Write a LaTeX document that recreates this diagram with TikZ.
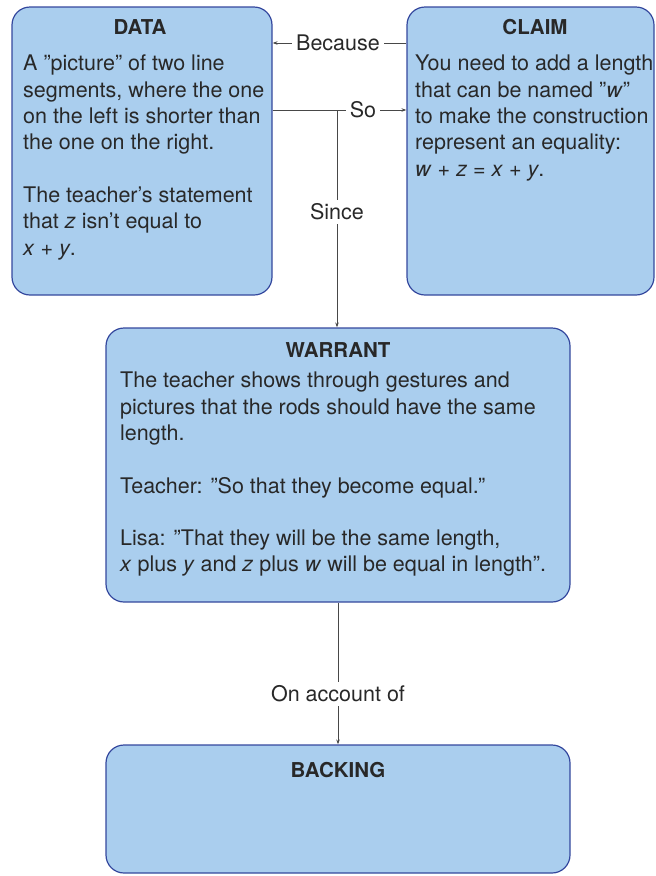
\documentclass[tikz,border=0pt]{standalone}
\usepackage{fontspec}
\setmainfont{TeX Gyre Heros}
\usetikzlibrary{arrows.meta}
\definecolor{boxfill}{RGB}{170,206,238}
\definecolor{boxline}{RGB}{52,72,158}
\definecolor{ink}{RGB}{40,40,40}
\tikzset{
  box/.style={draw=boxline, line width=1.2pt, fill=boxfill, rounded corners=18pt, inner sep=0pt},
  head/.style={font=\fontsize{20.5}{26}\selectfont\bfseries, text=ink},
  body/.style={font=\fontsize{21.5}{26.3}\selectfont, text=ink, align=left, anchor=north west, inner sep=0pt},
  lbl/.style={font=\fontsize{21.5}{24}\selectfont, text=ink, inner sep=4pt},
  conn/.style={draw=ink!85, line width=0.8pt},
  >={Stealth[length=5pt,width=3.5pt]}
}

\begin{document}
\begin{tikzpicture}[x=1pt, y=-1pt]
			%%%%% START %%%%%
			\useasboundingbox (0,0) rectangle (656,876);
			
			\node[box, minimum width=260pt, minimum height=288pt] (data) at (142,151) {};
			\node[head] (datahead) at (140,27) {DATA};
			\node[body] (databody) at (23,55) {A ”picture” of two line\\ segments, where the one\\ on the left is shorter than\\ the one on the right.\\[26.3pt] The teacher’s statement\\ that \textit{z} isn’t equal to\\ \textit{x} + \textit{y}.};
			
			\node[box, minimum width=247pt, minimum height=288pt] (claim) at (530.5,151) {};
			\node[head] (claimhead) at (535,27) {CLAIM};
			\node[body] (claimbody) at (415,55) {You need to add a length\\ that can be named ”\textit{w}”\\ to make the construction\\ represent an equality:\\ \textit{w} + \textit{z} = \textit{x} + \textit{y}.};
			
			\node[box, minimum width=464pt, minimum height=274pt] (warrant) at (338,465) {};
			\node[head] (warranthead) at (338,350) {WARRANT};
			\node[body] (warrantbody) at (120,372) {The teacher shows through gestures and\\ pictures that the rods should have the same\\ length.\\[26.3pt] Teacher: ”So that they become equal.”\\[26.3pt] Lisa: ”That they will be the same length,\\ \textit{x} plus \textit{y} and \textit{z} plus \textit{w} will be equal in length”.};
			
			\node[box, minimum width=464pt, minimum height=128pt] (backing) at (338,809) {};
			\node[head] (backinghead) at (338,770) {BACKING};
			
			\node[lbl] (because) at (338,43) {Because};
			\node[lbl] (so) at (363,110) {So};
			\node[lbl] (since) at (337,212) {Since};
			\node[lbl] (account) at (338,694) {On account of};
			\coordinate (fork) at (337,110);
			
			\draw[conn] (because -| claim.west) -- (because);
			\draw[conn,->] (because) -- (because -| data.east);
			\draw[conn] (so -| data.east) -- (so);
			\draw[conn,->] (so) -- (so -| claim.west);
			\draw[conn] (fork) -- (since);
			\draw[conn,->] (since) -- (since |- warrant.north);
			\draw[conn] (warrant.south) -- (account);
			\draw[conn,->] (account) -- (backing.north);
			%%%%% END %%%%%
\end{tikzpicture}
\end{document}
